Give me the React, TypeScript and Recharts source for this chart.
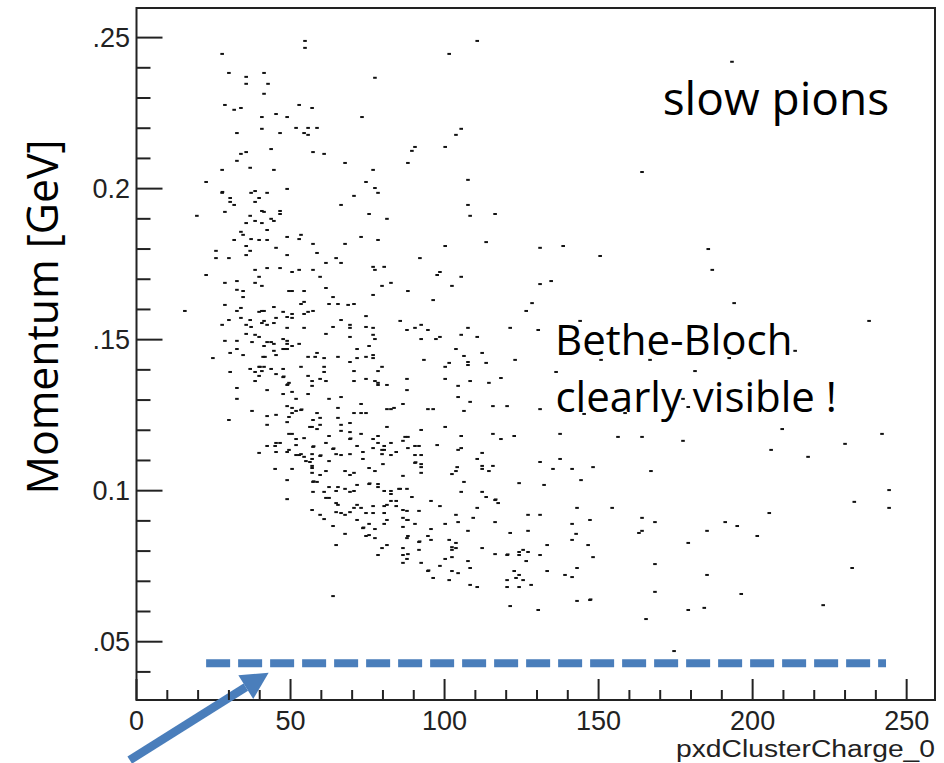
import React from "react";
import {
  ScatterChart,
  Scatter,
  XAxis,
  YAxis,
  ReferenceArea,
  ReferenceLine,
} from "recharts";

// [pxdClusterCharge_0, momentum GeV], split by region
const hitsTopLeft: [number, number][] = [
  [54.7, 0.2489], [54.7, 0.2466], [27.8, 0.2446], [30.0, 0.2383], [35.6, 0.237], [35.6, 0.2347],
  [41.4, 0.2383], [42.7, 0.2347], [77.4, 0.2367], [41.4, 0.2314], [28.7, 0.2277], [31.7, 0.2261],
  [33.9, 0.2267], [52.8, 0.2277], [57.0, 0.2267], [40.7, 0.2237], [45.3, 0.2247], [48.9, 0.2237],
  [73.2, 0.2237], [32.6, 0.2184], [40.7, 0.2198], [46.6, 0.2184], [51.8, 0.2201], [55.7, 0.2201],
  [58.6, 0.2201], [54.4, 0.2184], [55.7, 0.2178], [43.7, 0.2131], [33.9, 0.2115], [35.6, 0.2121],
  [32.6, 0.2092], [57.3, 0.2121], [60.9, 0.2115], [67.7, 0.2085], [90.4, 0.2138], [89.4, 0.2125],
  [88.1, 0.2085], [27.8, 0.2062], [36.9, 0.2069], [44.6, 0.2062], [76.8, 0.2062], [22.6, 0.2022],
  [74.5, 0.2022], [77.4, 0.2002], [78.4, 0.1986], [27.8, 0.1986], [27.9, 0.1989], [37.2, 0.1986],
  [38.5, 0.1992], [42.4, 0.1986], [48.9, 0.1999], [70.6, 0.1976], [30.4, 0.1969], [30.4, 0.1956],
  [31.7, 0.1946], [39.8, 0.1969], [38.5, 0.1956], [66.4, 0.1946], [19.6, 0.191], [28.7, 0.1923],
  [40.7, 0.1926], [41.4, 0.1923], [46.6, 0.1926], [46.6, 0.1916], [36.9, 0.191], [75.5, 0.1916],
  [81.3, 0.19], [35.6, 0.1886], [38.5, 0.1893], [40.7, 0.1886], [43.7, 0.19], [44.6, 0.1893],
  [42.4, 0.1863], [33.9, 0.1857], [34.6, 0.1847], [31.7, 0.183], [37.2, 0.1833], [39.8, 0.183],
  [42.4, 0.183], [48.9, 0.184], [52.8, 0.1833], [53.4, 0.1847], [72.9, 0.184], [78.4, 0.183],
  [57.3, 0.1817], [67.7, 0.1817], [35.6, 0.181], [45.3, 0.1804], [25.8, 0.1794], [36.9, 0.1794],
  [35.6, 0.178], [48.9, 0.178], [58.6, 0.1787], [25.8, 0.177], [30.0, 0.177], [64.8, 0.177],
  [92.0, 0.177],
];

const hitsTopRight: [number, number][] = [
  [110.6, 0.2489], [101.5, 0.2446], [105.4, 0.2198], [103.7, 0.2178], [100.2, 0.2138],
  [107.6, 0.2029], [164.1, 0.2055], [107.6, 0.1946], [108.3, 0.191], [116.4, 0.1916],
  [100.2, 0.181], [113.5, 0.1823], [131.0, 0.1804], [138.5, 0.181], [150.5, 0.1777],
  [193.3, 0.242], [185.6, 0.18], [186.9, 0.1731], [194.0, 0.1621], [237.8, 0.1562],
  [213.8, 0.1463], [192.4, 0.1439], [181.3, 0.1396], [166.7, 0.1433], [177.4, 0.1304],
  [179.1, 0.1277],
];

const hitsMidRight: [number, number][] = [
  [97.6, 0.1714], [98.5, 0.1724], [105.4, 0.1708], [102.4, 0.1678], [88.1, 0.1661], [96.3, 0.1631],
  [131.0, 0.1684], [134.6, 0.1694], [128.4, 0.1621], [126.5, 0.1595], [144.0, 0.1562], [85.6, 0.1562],
  [87.8, 0.1532], [90.4, 0.1539], [92.4, 0.1549], [94.6, 0.1532], [107.6, 0.1539], [121.3, 0.1539],
  [130.4, 0.1532], [92.4, 0.1502], [97.2, 0.1502], [98.5, 0.1509], [105.4, 0.1516], [110.6, 0.1509],
  [103.7, 0.1469], [106.3, 0.1446], [107.6, 0.1426], [107.6, 0.1416], [112.2, 0.1456], [113.5, 0.1423],
  [100.2, 0.141], [101.5, 0.1423], [93.3, 0.1433], [122.9, 0.1433], [150.8, 0.1433], [136.2, 0.1393],
  [87.8, 0.137], [100.2, 0.137], [108.3, 0.1363], [114.4, 0.1357], [118.3, 0.1373], [87.8, 0.1333],
  [104.4, 0.1347], [104.4, 0.131], [86.5, 0.1287], [94.6, 0.127], [96.3, 0.127], [106.3, 0.1264],
  [108.3, 0.1294], [115.7, 0.128], [120.3, 0.128], [131.0, 0.127], [145.3, 0.1254], [158.6, 0.1257],
];

const hitsMidLeft: [number, number][] = [
  [61.5, 0.1754], [66.4, 0.1754], [22.6, 0.1714], [38.5, 0.1731], [42.4, 0.1737], [46.6, 0.1737],
  [50.5, 0.1724], [52.8, 0.1731], [57.3, 0.1731], [39.8, 0.1708], [59.6, 0.1708], [76.8, 0.1741],
  [77.4, 0.1731], [80.4, 0.1741], [28.7, 0.1688], [32.6, 0.1694], [38.5, 0.1688], [40.7, 0.1678],
  [79.7, 0.1678], [82.6, 0.1688], [61.5, 0.1671], [32.6, 0.1665], [34.6, 0.1661], [34.6, 0.1641],
  [49.5, 0.1661], [50.5, 0.1661], [54.4, 0.1661], [63.8, 0.1641], [76.8, 0.1648], [28.7, 0.1615],
  [53.4, 0.1618], [54.4, 0.1625], [62.5, 0.1618], [65.4, 0.1618], [68.7, 0.1615], [70.6, 0.1618],
  [33.9, 0.1605], [32.6, 0.1595], [39.8, 0.1592], [40.7, 0.1595], [41.4, 0.1595], [44.6, 0.1608],
  [47.6, 0.1592], [48.9, 0.1575], [50.5, 0.1585], [50.5, 0.1572], [54.4, 0.1585], [55.7, 0.1592],
  [57.3, 0.1595], [15.7, 0.1595], [30.0, 0.1565], [33.9, 0.1572], [36.9, 0.1565], [41.4, 0.1562],
  [40.7, 0.1555], [42.4, 0.1549], [44.6, 0.1555], [45.3, 0.1572], [27.8, 0.1549], [35.6, 0.1549],
  [37.2, 0.1542], [66.4, 0.1565], [74.5, 0.1578], [48.9, 0.1539], [54.4, 0.1539], [61.5, 0.1519],
  [63.8, 0.1542], [69.3, 0.1549], [69.3, 0.1539], [74.5, 0.1542], [76.8, 0.1539], [35.6, 0.1519],
  [38.5, 0.1516], [39.8, 0.1509], [28.7, 0.1496], [32.6, 0.1496], [37.5, 0.1492], [42.4, 0.1492],
  [43.7, 0.1492], [44.6, 0.1486], [47.6, 0.1502], [48.9, 0.1496], [48.9, 0.1486], [50.5, 0.1479],
  [52.8, 0.1486], [41.4, 0.1479], [69.3, 0.1509], [76.8, 0.1516], [77.4, 0.1502], [75.5, 0.1479],
  [32.6, 0.1469], [30.4, 0.1456], [34.6, 0.1449], [44.6, 0.1463], [45.3, 0.1449], [47.6, 0.1469],
  [48.2, 0.1469], [48.9, 0.1469], [24.8, 0.1439], [41.1, 0.1443], [41.7, 0.1443], [55.7, 0.1443],
  [58.6, 0.1456], [58.0, 0.1443], [60.9, 0.1439], [65.4, 0.1443], [69.3, 0.1426], [71.6, 0.1469],
  [71.6, 0.1439], [74.5, 0.1443], [76.8, 0.1449], [76.8, 0.1439], [36.9, 0.1403], [39.8, 0.141],
  [40.1, 0.141], [41.4, 0.141], [38.5, 0.1393], [39.8, 0.138], [40.7, 0.1396], [43.7, 0.1403],
  [45.3, 0.1386], [47.6, 0.1403], [47.6, 0.1376], [47.8, 0.1378], [30.4, 0.1393], [53.4, 0.141],
  [55.7, 0.138], [60.9, 0.141], [60.9, 0.1393], [59.6, 0.137], [61.5, 0.1363], [70.6, 0.1396],
  [74.5, 0.137], [77.4, 0.1363], [78.4, 0.135], [78.4, 0.1357], [79.7, 0.141], [81.3, 0.135],
  [78.4, 0.1396], [38.5, 0.1363], [42.4, 0.1333], [48.9, 0.135], [49.1, 0.1352], [49.5, 0.1357],
  [50.5, 0.1327], [47.6, 0.132], [57.0, 0.1363], [57.0, 0.1347], [55.7, 0.132], [32.6, 0.134],
  [32.6, 0.1304], [70.6, 0.1363], [51.8, 0.1304], [62.5, 0.1304], [66.4, 0.131], [65.4, 0.1274],
  [70.6, 0.1257], [72.9, 0.1287], [74.5, 0.1257], [72.9, 0.1257], [37.5, 0.1264], [48.9, 0.128],
  [50.5, 0.1274], [51.8, 0.1264], [53.4, 0.1267], [53.6, 0.1269], [50.5, 0.1257], [49.5, 0.1244],
  [42.4, 0.1247], [45.3, 0.1251], [58.6, 0.1257], [59.6, 0.1241], [65.4, 0.1241], [81.3, 0.127],
  [82.6, 0.127], [83.6, 0.1274],
];

const hitsLowLeft: [number, number][] = [
  [30.0, 0.1234], [48.9, 0.1227], [57.3, 0.1234], [42.4, 0.1218], [56.3, 0.1211], [57.0, 0.1211],
  [58.6, 0.1204], [59.6, 0.1218], [66.4, 0.1218], [66.4, 0.1198], [69.3, 0.1224], [69.3, 0.1194],
  [81.3, 0.1211], [49.5, 0.1188], [50.5, 0.1188], [51.8, 0.1171], [54.4, 0.1174], [62.5, 0.1181],
  [69.3, 0.1171], [69.5, 0.1173], [72.9, 0.1188], [76.8, 0.1171], [78.4, 0.1181], [45.3, 0.1158],
  [46.6, 0.1158], [42.4, 0.1148], [45.0, 0.1148], [51.8, 0.1151], [57.3, 0.1145], [57.5, 0.1147],
  [61.5, 0.1158], [63.8, 0.1138], [64.0, 0.114], [71.6, 0.1148], [78.4, 0.1158], [79.7, 0.1135],
  [80.4, 0.1148], [82.6, 0.1158], [39.8, 0.1125], [45.3, 0.1128], [48.9, 0.1128], [49.5, 0.1135],
  [51.8, 0.1118], [52.8, 0.1118], [53.4, 0.1121], [54.4, 0.1112], [57.0, 0.1121], [57.0, 0.1105],
  [59.6, 0.1115], [59.8, 0.1117], [62.5, 0.1098], [64.8, 0.1121], [66.4, 0.1118], [69.3, 0.1121],
  [73.5, 0.1128], [73.5, 0.1105], [76.8, 0.1141], [79.7, 0.1121], [80.4, 0.1135], [82.6, 0.1118],
  [84.3, 0.1128], [55.0, 0.1098], [56.3, 0.1095], [57.0, 0.1082], [57.0, 0.1075], [45.0, 0.1072],
  [50.5, 0.1072], [57.0, 0.1059], [59.6, 0.1052], [61.5, 0.1065], [67.7, 0.1065], [69.3, 0.1052],
  [70.6, 0.1059], [75.5, 0.1075], [77.4, 0.1065], [80.0, 0.1088], [48.9, 0.1035], [57.3, 0.1029],
  [57.5, 0.1031], [58.6, 0.1029], [71.6, 0.1019], [75.5, 0.1022], [75.7, 0.1024], [78.4, 0.1022],
  [78.4, 0.1012], [57.3, 0.0996], [60.9, 0.0996], [62.5, 0.1012], [64.8, 0.0999], [65.4, 0.1012],
  [67.7, 0.1006], [69.3, 0.0996], [70.6, 0.0999], [80.4, 0.0999], [82.6, 0.0999], [82.6, 0.0989],
  [85.2, 0.1006], [48.9, 0.0972], [61.5, 0.0976], [62.5, 0.0976], [64.8, 0.0959], [65.4, 0.0953],
  [70.6, 0.0943], [71.6, 0.0953], [72.9, 0.0943], [76.8, 0.0949], [80.4, 0.0949], [81.3, 0.0953],
  [82.6, 0.0966], [84.3, 0.0966], [84.3, 0.0949], [57.0, 0.0936], [59.6, 0.092], [60.9, 0.0906],
  [64.8, 0.0929], [66.4, 0.0926], [67.7, 0.092], [69.3, 0.0929], [71.6, 0.0903], [74.5, 0.0926],
  [76.8, 0.0926], [80.4, 0.0926], [81.3, 0.0903], [63.8, 0.0883], [73.5, 0.0876], [73.7, 0.0878],
  [75.5, 0.089], [77.4, 0.0873], [80.4, 0.089], [67.7, 0.0857], [74.5, 0.085], [75.5, 0.0853],
  [77.4, 0.0843], [64.8, 0.082], [79.7, 0.081], [81.3, 0.082], [78.4, 0.0787], [63.8, 0.0651],
];

const hitsLowRight: [number, number][] = [
  [100.2, 0.1211], [92.4, 0.1201], [137.5, 0.1188], [156.3, 0.1178], [164.1, 0.1178], [177.4, 0.1165],
  [87.2, 0.1178], [88.1, 0.1178], [86.5, 0.1165], [105.4, 0.1181], [115.7, 0.1188], [118.3, 0.1171],
  [122.6, 0.1181], [97.6, 0.1151], [90.4, 0.1148], [91.7, 0.1148], [88.1, 0.1141], [104.4, 0.1135],
  [105.4, 0.1141], [90.4, 0.1118], [92.4, 0.1118], [90.4, 0.1092], [90.6, 0.1094], [92.4, 0.1088],
  [92.4, 0.1078], [92.4, 0.1059], [86.5, 0.1049], [85.6, 0.1006], [87.8, 0.1006], [89.4, 0.0979],
  [112.2, 0.1125], [110.6, 0.1105], [112.2, 0.1082], [112.2, 0.1072], [115.7, 0.1082], [114.4, 0.1065],
  [104.1, 0.1078], [103.7, 0.1065], [102.4, 0.1055], [106.3, 0.1029], [131.0, 0.1095], [137.5, 0.1105],
  [135.2, 0.1072], [141.4, 0.1072], [148.2, 0.1078], [144.3, 0.1035], [124.2, 0.1025], [132.3, 0.1019],
  [167.0, 0.1065], [105.4, 0.0996], [112.2, 0.0996], [113.5, 0.0979], [116.4, 0.0969], [116.6, 0.0971],
  [117.4, 0.0959], [95.6, 0.0966], [98.5, 0.0949], [110.6, 0.0943], [86.5, 0.0936], [87.8, 0.0933],
  [91.7, 0.0933], [86.5, 0.091], [87.8, 0.0903], [88.1, 0.0903], [90.4, 0.089], [86.5, 0.088],
  [95.6, 0.0873], [103.7, 0.092], [109.3, 0.091], [104.4, 0.0896], [100.2, 0.089], [116.4, 0.0896],
  [107.6, 0.0867], [143.0, 0.0943], [154.4, 0.0943], [127.1, 0.092], [131.0, 0.092], [141.4, 0.089],
  [147.2, 0.0903], [164.1, 0.091], [168.3, 0.0896], [121.3, 0.086], [127.1, 0.0867], [142.7, 0.0857],
  [141.4, 0.0837], [163.1, 0.086], [164.1, 0.0867], [179.1, 0.0827], [88.1, 0.085], [87.8, 0.0843],
  [94.6, 0.085], [95.6, 0.0837], [101.5, 0.0837], [91.7, 0.083], [91.9, 0.0832], [86.5, 0.081],
  [91.7, 0.0804], [103.7, 0.0827], [102.4, 0.0813], [103.7, 0.081], [102.4, 0.0804], [112.2, 0.081],
  [133.3, 0.082], [146.6, 0.082], [86.5, 0.0787], [88.1, 0.079], [87.8, 0.0774], [86.5, 0.0761],
  [92.4, 0.0761], [98.5, 0.0751], [100.2, 0.0774], [102.4, 0.078], [107.6, 0.0767], [108.3, 0.0744],
  [116.4, 0.079], [120.3, 0.0787], [120.5, 0.0789], [124.2, 0.0797], [125.5, 0.0804], [127.1, 0.0797],
  [124.2, 0.0787], [126.5, 0.0767], [131.0, 0.0787], [148.2, 0.078], [168.3, 0.0757], [143.0, 0.0744],
  [133.3, 0.0734], [94.6, 0.0734], [94.8, 0.0736], [102.4, 0.0734], [104.4, 0.0727], [96.3, 0.0711],
  [101.5, 0.0704], [108.3, 0.0688], [110.6, 0.0681], [122.6, 0.0734], [124.2, 0.0721], [123.2, 0.0711],
  [125.5, 0.0704], [120.3, 0.0704], [120.3, 0.0681], [124.2, 0.0681], [128.1, 0.0688], [139.1, 0.0721],
  [141.4, 0.0714], [168.3, 0.0665], [143.0, 0.0635], [147.2, 0.0638], [147.4, 0.064], [121.3, 0.0618],
  [130.4, 0.0605], [179.1, 0.0605], [165.4, 0.0575], [174.5, 0.0469],
  [209.6, 0.1204], [242.0, 0.1188], [230.0, 0.1155], [206.0, 0.1135], [218.0, 0.1112], [244.3, 0.1002],
  [233.0, 0.0963], [244.3, 0.0943], [191.1, 0.0896], [195.0, 0.0883], [185.2, 0.0867], [205.4, 0.0926],
  [201.5, 0.085], [185.2, 0.0721], [232.3, 0.0744], [196.3, 0.0658], [184.3, 0.0612], [222.9, 0.0621],
];

const xTicks = [0, 10, 20, 30, 40, 50, 60, 70, 80, 90, 100, 110, 120, 130, 140, 150, 160, 170, 180, 190, 200, 210, 220, 230, 240, 250];
const yTicks = [0.04, 0.05, 0.06, 0.07, 0.08, 0.09, 0.1, 0.11, 0.12, 0.13, 0.14, 0.15, 0.16, 0.17, 0.18, 0.19, 0.2, 0.21, 0.22, 0.23, 0.24, 0.25];
const yTickText: Record<string, string> = { "0.05": ".05", "0.1": "0.1", "0.15": ".15", "0.2": "0.2", "0.25": ".25" };

const xDomain: [number, number] = [0, 259.2];
const yDomain: [number, number] = [0.0307, 0.2598];

// the blue cut line and the arrow pointing at it
const cutLine = [{ x: 22.6, y: 0.0429 }, { x: 243.3, y: 0.0429 }];
const arrowLine = [{ x: -2.2, y: 0.0108 }, { x: 42.9, y: 0.0397 }];

const hits = [
  ...hitsTopLeft,
  ...hitsTopRight,
  ...hitsMidRight,
  ...hitsMidLeft,
  ...hitsLowLeft,
  ...hitsLowRight,
].map(([charge, momentum]) => ({ charge, momentum }));

const BLUE = "#4a7ebb";
const INK = "#222";
const AXIS_FONT = "'Liberation Sans', Arial, sans-serif";
const NOTE_FONT = "'Open Sans', 'Noto Sans', sans-serif";

const XTick = (props: any) => {
  const { x, y, payload } = props;
  const major = payload.value % 50 === 0;
  return (
    <g>
      <line x1={x} x2={x} y1={y} y2={y - (major ? 21 : 10)} stroke={INK} strokeWidth={2} />
      {major && (
        <text x={x} y={y + 30} textAnchor="middle" fontFamily={AXIS_FONT} fontSize={27} fill={INK}>
          {payload.value}
        </text>
      )}
    </g>
  );
};

const YTick = (props: any) => {
  const { x, y, payload } = props;
  const label = yTickText[String(payload.value)];
  return (
    <g>
      <line x1={x} x2={x + (label ? 26 : 14)} y1={y} y2={y} stroke={INK} strokeWidth={2} />
      {label && (
        <text x={x - 6.5} y={y + 9.5} textAnchor="end" fontFamily={AXIS_FONT} fontSize={27} fill={INK}>
          {label}
        </text>
      )}
    </g>
  );
};

const Dash = (props: any) => (
  <rect x={props.cx - 1.8} y={props.cy - 1} width={3.6} height={2} fill="#111" />
);

const Arrow = (props: any) => {
  const { x1, y1, x2, y2 } = props;
  const ang = Math.atan2(y2 - y1, x2 - x1);
  const headLen = 27;
  const headW = 14;
  const bx = x2 - headLen * Math.cos(ang);
  const by = y2 - headLen * Math.sin(ang);
  const nx = -Math.sin(ang);
  const ny = Math.cos(ang);
  return (
    <g>
      <line x1={x1} y1={y1} x2={bx} y2={by} stroke={BLUE} strokeWidth={8.5} />
      <polygon
        points={`${x2},${y2} ${bx + nx * headW},${by + ny * headW} ${bx - nx * headW},${by - ny * headW}`}
        fill={BLUE}
      />
    </g>
  );
};

const App: React.FC = () => {
  return (
    <div style={{ position: "absolute", left: 0, top: 0, width: 944, height: 763, background: "#fff" }}>
      <ScatterChart width={944} height={763} margin={{ top: 8, right: 9, bottom: 0, left: 0 }}>
        <XAxis
          type="number"
          dataKey="charge"
          domain={xDomain}
          allowDataOverflow
          ticks={xTicks}
          interval={0}
          tickSize={0}
          tickMargin={0}
          tickLine={false}
          axisLine={false}
          height={63}
          tick={XTick}
        />
        <YAxis
          type="number"
          dataKey="momentum"
          domain={yDomain}
          allowDataOverflow
          ticks={yTicks}
          interval={0}
          tickSize={0}
          tickMargin={0}
          tickLine={false}
          axisLine={false}
          width={136.5}
          tick={YTick}
        />
        <ReferenceArea
          x1={xDomain[0]}
          x2={xDomain[1]}
          y1={yDomain[0]}
          y2={yDomain[1]}
          fill="none"
          stroke={INK}
          strokeWidth={2}
          ifOverflow="visible"
        />
        <Scatter data={hits} shape={Dash} isAnimationActive={false} />
        <ReferenceLine
          segment={cutLine}
          stroke={BLUE}
          strokeWidth={8}
          strokeDasharray="24 8"
          ifOverflow="visible"
        />
        <ReferenceLine segment={arrowLine} ifOverflow="visible" shape={Arrow} />
      </ScatterChart>
      <svg
        width={944}
        height={763}
        style={{ position: "absolute", left: 0, top: 0, pointerEvents: "none" }}
      >
        <text x={935} y={757} textAnchor="end" fontFamily={AXIS_FONT} fontSize={23} fill={INK} textLength={259} lengthAdjust="spacingAndGlyphs">
          pxdClusterCharge_0
        </text>
        <text
          x={58}
          y={317}
          transform="rotate(-90 58 317)"
          textAnchor="middle"
          fontFamily={NOTE_FONT}
          fontSize={44}
          fill="#000"
          textLength={355}
          lengthAdjust="spacingAndGlyphs"
        >
          Momentum [GeV]
        </text>
        <text x={662.7} y={115} fontFamily={NOTE_FONT} fontSize={46} fill="#000">
          slow pions
        </text>
        <text x={555} y={355} fontFamily={NOTE_FONT} fontSize={42} fill="#000">
          Bethe-Bloch
        </text>
        <text x={555.5} y={412} fontFamily={NOTE_FONT} fontSize={42} fill="#000">
          clearly visible !
        </text>
      </svg>
    </div>
  );
};

export default App;
